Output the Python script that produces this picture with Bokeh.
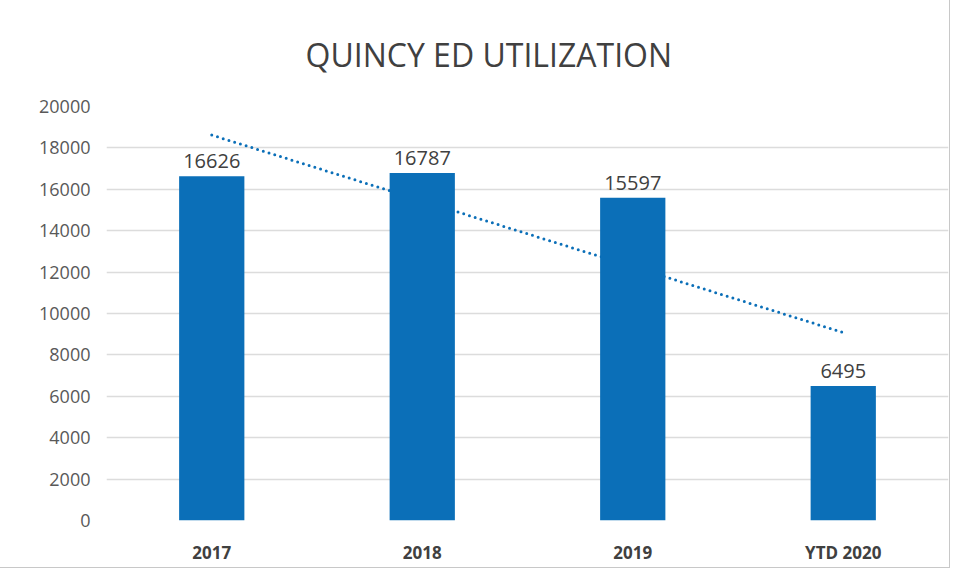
from bokeh.plotting import figure
from bokeh.models import ColumnDataSource, LabelSet, FactorRange, Range1d, SingleIntervalTicker
from bokeh.core.properties import value
from bokeh.embed import file_html
from bokeh.resources import INLINE

categories = ["2017", "2018", "2019", "YTD 2020"]
visits = [16626, 16787, 15597, 6495]
trend_x = ["2017", "YTD 2020"]
trend_y = [18620, 9080]

BLUE = "#0B6FB8"
FONT = "Open Sans"

p = figure(width=949, height=567, output_backend="svg", toolbar_location=None,
           x_range=FactorRange(*categories, range_padding=0), y_range=Range1d(0, 20000),
           min_border_left=106, min_border_right=1, min_border_top=106, min_border_bottom=47,
           title="QUINCY ED UTILIZATION")
p.title.align = "left"
p.title.offset = 199
p.title.text_font = FONT
p.title.text_font_size = "32px"
p.title.text_font_style = "normal"
p.title.text_color = "#404040"
p.title.standoff = 61

p.outline_line_color = None
p.background_fill_color = "white"
p.border_fill_color = "white"
p.styles = {"outline": "1px solid #C8C8C8"}

src = ColumnDataSource(dict(x=categories, y=visits, lab=[str(v) for v in visits]))

p.line(x=trend_x, y=trend_y, line_color=BLUE, line_width=3, line_dash="0 6", line_cap="round")
p.vbar(x="x", top="y", width=0.31, source=src, fill_color=BLUE, line_color=None)

labels = LabelSet(x="x", y="y", text="lab", source=src, text_align="center",
                  text_baseline="bottom", y_offset=8, text_font=value(FONT),
                  text_font_size=value("20px"), text_color=value("#404040"))
p.add_layout(labels)

p.yaxis.ticker = SingleIntervalTicker(interval=2000)
p.ygrid.ticker = SingleIntervalTicker(interval=2000)
p.ygrid.grid_line_color = "#DCDCDC"
p.ygrid.grid_line_width = 1.5
p.xgrid.grid_line_color = None

for ax in (p.xaxis, p.yaxis):
    ax.axis_line_color = None
    ax.major_tick_line_color = None
    ax.minor_tick_line_color = None
    ax.major_label_text_font = FONT

p.yaxis.major_label_text_font_size = "18px"
p.yaxis.major_label_text_color = "#595959"
p.yaxis.major_label_standoff = 10
p.xaxis.major_label_text_font_size = "17px"
p.xaxis.major_label_text_color = "#404040"
p.xaxis.major_label_text_font_style = "bold"
p.xaxis.major_label_standoff = 14

open("out.html", "w").write(file_html(p, INLINE))
